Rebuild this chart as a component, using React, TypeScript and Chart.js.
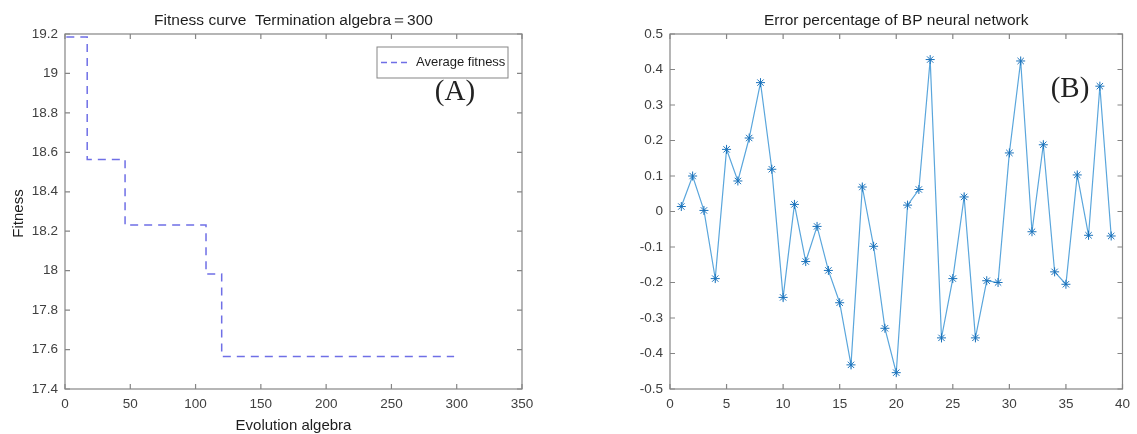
import React, { useEffect, useRef } from "react";
import { Chart, registerables } from "chart.js";

Chart.register(...registerables);

// ---------- data ----------
const fitnessGenerations = [1, 17, 46, 108, 120, 298];
const fitnessValues = [19.185, 18.564, 18.231, 17.983, 17.565, 17.565];

const errorSamples = [
  1, 2, 3, 4, 5, 6, 7, 8, 9, 10, 11, 12, 13, 14, 15, 16, 17, 18, 19, 20,
  21, 22, 23, 24, 25, 26, 27, 28, 29, 30, 31, 32, 33, 34, 35, 36, 37, 38, 39,
];
const errorValues = [
  0.014, 0.1, 0.003, -0.189, 0.175, 0.086, 0.207, 0.363, 0.119, -0.242,
  0.02, -0.141, -0.042, -0.166, -0.257, -0.432, 0.069, -0.098, -0.329, -0.454,
  0.018, 0.062, 0.428, -0.356, -0.189, 0.041, -0.356, -0.195, -0.2, 0.165,
  0.424, -0.057, 0.188, -0.17, -0.205, 0.103, -0.067, 0.353, -0.069,
];

const leftTitle = "Fitness curve  Termination algebra\uFF1D300";
const leftXLabel = "Evolution algebra";
const leftYLabel = "Fitness";
const leftLegend = "Average fitness";
const rightTitle = "Error percentage of BP neural network";

// ---------- style ----------
const SANS = "'Liberation Sans', Arial, Helvetica, sans-serif";
const SERIF = "'Liberation Serif', 'DejaVu Serif', serif";
const AXIS_COLOR = "#858585";
const TICK_TEXT = "#404040";
const TITLE_TEXT = "#1e1e1e";
const W = 1137;
const H = 434;

const fmt = (v: any) => String(Number(Number(v).toFixed(2)));

function framePlugin(extra: (chart: any) => void, title: string, xLabel?: string, yLabel?: string) {
  return {
    id: "frame",
    afterDraw(chart: any) {
      const { ctx, chartArea: a, scales } = chart;
      ctx.save();
      ctx.strokeStyle = AXIS_COLOR;
      ctx.lineWidth = 1.2;
      ctx.strokeRect(a.left, a.top, a.right - a.left, a.bottom - a.top);
      const tl = 5;
      ctx.beginPath();
      scales.x.ticks.forEach((t: any) => {
        const px = scales.x.getPixelForValue(t.value);
        ctx.moveTo(px, a.bottom);
        ctx.lineTo(px, a.bottom - tl);
        ctx.moveTo(px, a.top);
        ctx.lineTo(px, a.top + tl);
      });
      scales.y.ticks.forEach((t: any) => {
        const py = scales.y.getPixelForValue(t.value);
        ctx.moveTo(a.left, py);
        ctx.lineTo(a.left + tl, py);
        ctx.moveTo(a.right, py);
        ctx.lineTo(a.right - tl, py);
      });
      ctx.stroke();

      // title
      ctx.fillStyle = TITLE_TEXT;
      ctx.font = `15.5px ${SANS}`;
      ctx.textAlign = "center";
      ctx.textBaseline = "middle";
      ctx.fillText(title, (a.left + a.right) / 2, 21);

      ctx.font = `15px ${SANS}`;
      if (xLabel) {
        ctx.fillText(xLabel, (a.left + a.right) / 2, 426);
      }
      if (yLabel) {
        ctx.save();
        ctx.translate(19, (a.top + a.bottom) / 2 + 2);
        ctx.rotate(-Math.PI / 2);
        ctx.fillText(yLabel, 0, 0);
        ctx.restore();
      }
      extra(chart);
      ctx.restore();
    },
  };
}

function baseScales(xMin: number, xMax: number, xStep: number, yMin: number, yMax: number, yStep: number, yWidth: number) {
  return {
    x: {
      type: "linear",
      min: xMin,
      max: xMax,
      ticks: {
        stepSize: xStep,
        padding: 7,
        color: TICK_TEXT,
        font: { family: SANS, size: 13.5 },
        maxRotation: 0,
        autoSkip: false,
        callback: fmt,
      },
      grid: { display: false, drawTicks: false },
      border: { display: false },
      afterFit: (s: any) => {
        s.height = H - 389;
      },
    },
    y: {
      type: "linear",
      min: yMin,
      max: yMax,
      ticks: {
        stepSize: yStep,
        padding: 7,
        color: TICK_TEXT,
        font: { family: SANS, size: 13.5 },
        autoSkip: false,
        callback: fmt,
      },
      grid: { display: false, drawTicks: false },
      border: { display: false },
      afterFit: (s: any) => {
        s.width = yWidth;
      },
    },
  };
}

function LeftChart() {
  const ref = useRef<HTMLCanvasElement>(null);
  useEffect(() => {
    if (!ref.current) return;
    const extra = (chart: any) => {
      const { ctx } = chart;
      // legend box
      const bx = 377, by = 47, bw = 131, bh = 31;
      ctx.fillStyle = "#ffffff";
      ctx.fillRect(bx, by, bw, bh);
      ctx.strokeStyle = AXIS_COLOR;
      ctx.lineWidth = 1;
      ctx.strokeRect(bx, by, bw, bh);
      ctx.strokeStyle = "#6f6fe6";
      ctx.lineWidth = 1.5;
      ctx.setLineDash([6, 4]);
      ctx.beginPath();
      ctx.moveTo(bx + 4, by + bh / 2);
      ctx.lineTo(bx + 34, by + bh / 2);
      ctx.stroke();
      ctx.setLineDash([]);
      ctx.fillStyle = TITLE_TEXT;
      ctx.font = `13px ${SANS}`;
      ctx.textAlign = "left";
      ctx.textBaseline = "middle";
      ctx.fillText(leftLegend, bx + 39, by + bh / 2);
      // annotation
      ctx.font = `29px ${SERIF}`;
      ctx.fillStyle = "#222222";
      ctx.textAlign = "center";
      ctx.fillText("(A)", 455, 92);
    };
    const chart = new Chart(ref.current, {
      type: "line",
      data: {
        datasets: [
          {
            data: fitnessGenerations.map((g, i) => ({ x: g, y: fitnessValues[i] })),
            stepped: true,
            borderColor: "#6f6fe6",
            borderWidth: 1.5,
            borderDash: [8, 6],
            pointRadius: 0,
            fill: false,
          },
        ],
      },
      options: {
        animation: false,
        responsive: false,
        devicePixelRatio: 1,
        layout: { padding: { top: 34, right: 560 - 522, left: 0, bottom: 0 } },
        plugins: { legend: { display: false }, tooltip: { enabled: false }, title: { display: false } },
        scales: baseScales(0, 350, 50, 17.4, 19.2, 0.2, 65) as any,
      },
      plugins: [framePlugin(extra, leftTitle, leftXLabel, leftYLabel)],
    } as any);
    return () => chart.destroy();
  }, []);
  return <canvas ref={ref} width={560} height={H} style={{ position: "absolute", left: 0, top: 0 }} />;
}

function RightChart() {
  const ref = useRef<HTMLCanvasElement>(null);
  useEffect(() => {
    if (!ref.current) return;
    const extra = (chart: any) => {
      const { ctx } = chart;
      ctx.font = `29px ${SERIF}`;
      ctx.fillStyle = "#222222";
      ctx.textAlign = "center";
      ctx.textBaseline = "middle";
      ctx.fillText("(B)", 1070 - 560, 89);
    };
    const chart = new Chart(ref.current, {
      type: "line",
      data: {
        datasets: [
          {
            data: errorSamples.map((s, i) => ({ x: s, y: errorValues[i] })),
            borderColor: "#5aa6dc",
            borderWidth: 1.2,
            pointStyle: "star",
            pointRadius: 4.5,
            pointBorderColor: "#1a72bb",
            pointBackgroundColor: "#1a72bb",
            pointBorderWidth: 1,
            tension: 0,
            fill: false,
          },
        ],
      },
      options: {
        animation: false,
        responsive: false,
        devicePixelRatio: 1,
        layout: { padding: { top: 34, right: 577 - (1127 - 560), left: 0, bottom: 0 } },
        plugins: { legend: { display: false }, tooltip: { enabled: false }, title: { display: false } },
        scales: baseScales(0, 40, 5, -0.5, 0.5, 0.1, 670 - 560) as any,
      },
      plugins: [framePlugin(extra, rightTitle)],
    } as any);
    return () => chart.destroy();
  }, []);
  return <canvas ref={ref} width={577} height={H} style={{ position: "absolute", left: 560, top: 0 }} />;
}

export default function App() {
  return (
    <div style={{ position: "absolute", left: 0, top: 0, width: W, height: H, background: "#ffffff", overflow: "hidden" }}>
      <LeftChart />
      <RightChart />
    </div>
  );
}
